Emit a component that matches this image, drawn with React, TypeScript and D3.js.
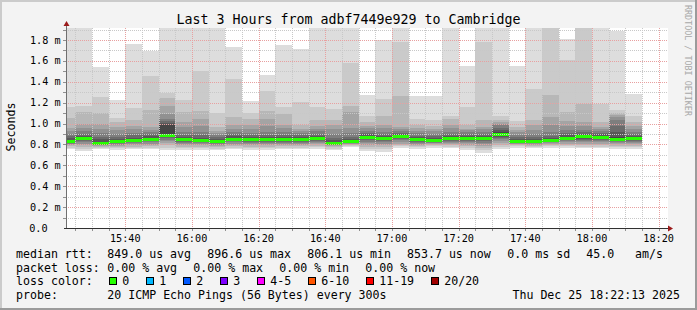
import React from "react";
import * as d3 from "d3";

// ---------------- data ----------------
const chartTitle = "Last 3 Hours from adbf7449e929 to Cambridge";
const endTime = Date.UTC(2025, 11, 25, 18, 22, 13);
const startTime = endTime - 3 * 3600 * 1000;
const firstBarEnd = Date.UTC(2025, 11, 25, 15, 25, 0);
const stepMs = 300 * 1000;

// median RTT per 5-min step (ms)
const medianRtt = [
  0.833, 0.855, 0.809, 0.830, 0.841, 0.852, 0.890, 0.843, 0.840, 0.830,
  0.852, 0.843, 0.846, 0.849, 0.846, 0.859, 0.812, 0.830, 0.871, 0.854,
  0.873, 0.844, 0.835, 0.854, 0.859, 0.860, 0.895, 0.830, 0.831, 0.840,
  0.860, 0.873, 0.871, 0.849, 0.854,
];

// 20 sorted ping RTTs per step (ms)
const pingRtt = [
  [0.755,0.768,0.781,0.792,0.801,0.809,0.816,0.822,0.827,0.831,0.836,0.845,0.858,0.877,0.902,0.930,0.955,1.050,1.161,2.050],
  [0.742,0.760,0.778,0.793,0.808,0.822,0.833,0.842,0.849,0.853,0.858,0.866,0.880,0.900,0.925,0.958,0.996,1.108,1.171,2.100],
  [0.752,0.765,0.776,0.785,0.792,0.797,0.801,0.804,0.806,0.808,0.811,0.826,0.848,0.872,0.905,0.950,0.998,1.101,1.254,1.541],
  [0.748,0.763,0.777,0.789,0.799,0.807,0.814,0.820,0.825,0.828,0.833,0.842,0.856,0.875,0.900,0.935,0.970,1.018,1.053,1.226],
  [0.752,0.767,0.780,0.792,0.803,0.812,0.821,0.829,0.835,0.839,0.844,0.852,0.866,0.886,0.912,0.945,0.980,1.034,1.149,1.762],
  [0.755,0.770,0.784,0.797,0.809,0.820,0.830,0.838,0.845,0.850,0.855,0.864,0.878,0.896,0.918,0.942,0.970,1.130,1.455,1.698],
  [0.745,0.770,0.790,0.810,0.830,0.845,0.858,0.868,0.878,0.885,0.895,0.990,1.005,1.020,1.040,1.089,1.168,1.248,1.290,2.100],
  [0.750,0.766,0.780,0.793,0.805,0.815,0.824,0.832,0.838,0.841,0.846,0.855,0.870,0.890,0.920,0.965,1.018,1.108,1.226,2.100],
  [0.750,0.765,0.779,0.791,0.803,0.813,0.822,0.830,0.836,0.839,0.843,0.852,0.866,0.886,0.915,0.975,1.040,1.120,1.503,2.100],
  [0.745,0.761,0.775,0.788,0.799,0.808,0.816,0.822,0.827,0.829,0.833,0.842,0.855,0.870,0.890,0.910,0.930,0.970,1.098,2.100],
  [0.755,0.770,0.784,0.797,0.809,0.820,0.830,0.838,0.845,0.850,0.855,0.864,0.878,0.897,0.922,0.952,0.986,1.066,1.427,1.733],
  [0.745,0.762,0.777,0.791,0.803,0.814,0.823,0.831,0.837,0.841,0.846,0.855,0.869,0.888,0.912,0.950,0.990,1.044,1.098,1.216],
  [0.750,0.766,0.780,0.793,0.805,0.816,0.825,0.833,0.840,0.844,0.849,0.858,0.872,0.892,0.920,0.975,1.040,1.120,1.312,1.465],
  [0.755,0.770,0.783,0.795,0.807,0.818,0.827,0.835,0.842,0.847,0.852,0.861,0.875,0.894,0.920,0.955,0.990,1.089,1.159,1.752],
  [0.752,0.767,0.781,0.794,0.806,0.816,0.825,0.833,0.840,0.844,0.849,0.858,0.871,0.888,0.908,0.930,0.950,0.986,1.203,1.714],
  [0.755,0.771,0.786,0.800,0.813,0.824,0.834,0.843,0.851,0.856,0.862,0.871,0.884,0.901,0.925,0.952,0.980,1.034,1.161,2.100],
  [0.748,0.761,0.773,0.783,0.791,0.798,0.803,0.807,0.810,0.811,0.814,0.825,0.842,0.865,0.900,0.945,0.990,1.034,1.139,2.100],
  [0.772,0.783,0.792,0.800,0.807,0.813,0.818,0.822,0.826,0.828,0.833,0.842,0.855,0.873,0.905,0.957,1.108,1.171,1.583,2.100],
  [0.740,0.760,0.779,0.796,0.812,0.826,0.839,0.851,0.861,0.867,0.874,0.883,0.896,0.912,0.932,0.955,0.980,1.018,1.076,1.273],
  [0.730,0.752,0.772,0.790,0.806,0.820,0.832,0.841,0.848,0.852,0.857,0.866,0.880,0.898,0.922,0.955,0.990,1.076,1.235,1.800],
  [0.770,0.784,0.797,0.809,0.820,0.838,0.850,0.859,0.866,0.870,0.876,0.885,0.898,0.913,0.930,0.950,0.970,1.264,1.784,2.100],
  [0.758,0.772,0.785,0.797,0.808,0.818,0.826,0.833,0.839,0.842,0.847,0.856,0.869,0.885,0.905,0.930,0.955,0.990,1.040,1.267],
  [0.770,0.782,0.793,0.802,0.810,0.817,0.823,0.828,0.832,0.834,0.838,0.847,0.860,0.877,0.898,0.925,0.950,0.980,1.034,1.267],
  [0.762,0.776,0.790,0.802,0.813,0.823,0.832,0.840,0.847,0.852,0.857,0.866,0.880,0.898,0.922,0.955,0.990,1.044,1.076,2.100],
  [0.750,0.767,0.783,0.798,0.812,0.824,0.835,0.845,0.852,0.857,0.862,0.871,0.884,0.900,0.918,0.935,0.950,0.986,1.161,1.554],
  [0.722,0.745,0.766,0.785,0.802,0.817,0.830,0.841,0.851,0.857,0.863,0.872,0.885,0.902,0.922,0.945,0.970,1.034,1.784,2.100],
  [0.755,0.775,0.795,0.815,0.833,0.848,0.861,0.873,0.883,0.890,0.900,0.915,0.935,0.960,0.985,1.000,1.015,1.034,1.076,2.100],
  [0.770,0.781,0.791,0.800,0.807,0.813,0.818,0.823,0.827,0.829,0.833,0.842,0.855,0.872,0.892,0.915,0.940,0.970,1.024,1.554],
  [0.765,0.777,0.788,0.798,0.806,0.813,0.819,0.824,0.828,0.830,0.834,0.843,0.856,0.875,0.900,0.940,0.990,1.034,1.331,2.100],
  [0.770,0.783,0.795,0.805,0.814,0.822,0.829,0.834,0.838,0.839,0.843,0.852,0.866,0.885,0.915,0.985,1.066,1.273,2.000,2.100],
  [0.770,0.784,0.797,0.809,0.820,0.830,0.839,0.847,0.854,0.858,0.863,0.872,0.886,0.905,0.935,0.980,1.028,1.108,1.608,1.810],
  [0.765,0.780,0.795,0.809,0.822,0.834,0.845,0.855,0.864,0.870,0.876,0.885,0.898,0.915,0.940,0.975,1.018,1.190,2.000,2.100],
  [0.762,0.778,0.793,0.807,0.820,0.832,0.843,0.853,0.862,0.868,0.874,0.883,0.896,0.912,0.932,0.952,0.970,1.015,1.190,2.100],
  [0.760,0.775,0.789,0.802,0.814,0.824,0.833,0.840,0.845,0.848,0.852,0.875,0.920,0.980,1.030,1.060,1.080,1.100,1.127,1.886],
  [0.760,0.775,0.789,0.802,0.814,0.824,0.833,0.841,0.848,0.852,0.857,0.866,0.879,0.896,0.918,0.948,0.980,1.018,1.076,1.283],
];

const yTickValues = [0, 0.2, 0.4, 0.6, 0.8, 1.0, 1.2, 1.4, 1.6, 1.8];
const yTickLabels = ["0.0", "0.2 m", "0.4 m", "0.6 m", "0.8 m", "1.0 m", "1.2 m", "1.4 m", "1.6 m", "1.8 m"];
const yLabel = "Seconds";
const credit = "RRDTOOL / TOBI OETIKER";

const medianRowLabel = "median rtt:";
const medianRowItems = ["849.0 us avg", "896.6 us max", "806.1 us min", "853.7 us now", "0.0 ms sd", "45.0", "am/s"];
const lossRowLabel = "packet loss:";
const lossRowItems = ["0.00 % avg", "0.00 % max", "0.00 % min", "0.00 % now"];
const colorRowLabel = "loss color:";
const lossLabels = ["0", "1", "2", "3", "4-5", "6-10", "11-19", "20/20"];
const lossColors = ["#26ff00", "#00b8ff", "#0059ff", "#7e00ff", "#ff00ff", "#ff5500", "#ff0000", "#a00000"];
const probeRowLabel = "probe:";
const probeText = "20 ICMP Echo Pings (56 Bytes) every 300s";
const dateText = "Thu Dec 25 18:22:13 2025";

// smoke shades, outer pair -> inner pair
const smokeShades = ["#dddddd", "#cacaca", "#b7b7b7", "#a4a4a4", "#919191", "#7e7e7e", "#6b6b6b", "#585858", "#454545", "#323232"];

// ---------------- layout ----------------
const W = 697, H = 310;
const PL = 66, PR = 666, PT = 28, PB = 228;
const FONT = "DejaVu Sans Mono";
const medianRowX = [107.3, 207.3, 307.3, 407.0, 507.3, 586.3, 635];
const lossRowX = [107.3, 193.3, 279.3, 365.3];
const rowY = [258, 271.7, 285.2, 299];

export default function App() {
  const x = d3.scaleUtc().domain([startTime, endTime]).range([PL, PR]);
  const y = d3.scaleLinear().domain([0, 1.915]).range([PB, PT]);

  const minorX = x.ticks(d3.utcMinute.every(5)!).filter((t) => t.getUTCMinutes() % 20 !== 0);
  const majorX = x.ticks(d3.utcMinute.every(20)!);
  const fmt = d3.utcFormat("%H:%M");
  const minorY = d3.range(1, 20).map((i) => i / 10).filter((v) => Math.round(v * 10) % 2 === 1);
  const majorY = yTickValues.filter((v) => v > 0);

  const bars = medianRtt.map((m, k) => {
    const tEnd = firstBarEnd + k * stepMs;
    const x0 = Math.max(PL, x(tEnd - stepMs));
    const x1 = x(tEnd);
    return { m, x0, x1, pings: pingRtt[k] };
  });

  const px = (v: number) => Math.round(v) + 0.5;

  // legend box positions
  let bx = 108.7;
  const boxes = lossLabels.map((lab, i) => {
    const b = { lab, col: lossColors[i], x: bx };
    bx += 30 + 7 * lab.length;
    return b;
  });

  return (
    <svg width={W} height={H} style={{ position: "fixed", left: 0, top: 0 }} fontFamily={FONT}>
      <defs>
        <clipPath id="plotclip">
          <rect x={PL + 1} y={PT} width={PR - PL} height={PB - PT} />
        </clipPath>
      </defs>
      <rect x={0} y={0} width={W} height={H} fill="#f3f3f3" />
      <rect x={0} y={0} width={W} height={2} fill="#cbcbcb" />
      <rect x={0} y={0} width={2} height={H} fill="#cbcbcb" />
      <rect x={0} y={H - 2} width={W} height={2} fill="#9b9b9b" />
      <rect x={W - 2} y={0} width={2} height={H} fill="#9b9b9b" />

      <text x={348.5} y={24} fontSize={13.3} textAnchor="middle" fill="#000">{chartTitle}</text>

      <rect x={PL} y={PT} width={PR - PL + 2} height={PB - PT} fill="#ffffff" />

      <g clipPath="url(#plotclip)" shapeRendering="crispEdges">
        {bars.map((b, k) => (
          <g key={k}>
            {smokeShades.map((c, i) => {
              const lo = b.pings[i];
              const hi = b.pings[19 - i];
              const yt = y(hi), yb = y(lo);
              return <rect key={i} x={b.x0} y={yt} width={b.x1 - b.x0} height={Math.max(0, yb - yt)} fill={c} />;
            })}
            <rect x={b.x0} y={y(b.m) - 1.5} width={b.x1 - b.x0} height={3} fill={lossColors[0]} />
          </g>
        ))}
      </g>

      {/* grid */}
      <g strokeWidth={1} strokeDasharray="1,1" shapeRendering="crispEdges">
        {minorY.map((v) => (
          <line key={"my" + v} x1={PL} x2={PR + 2} y1={px(y(v))} y2={px(y(v))} stroke="#c8c8c8" />
        ))}
        {minorX.map((t) => (
          <line key={"mx" + +t} x1={px(x(t))} x2={px(x(t))} y1={PT} y2={PB} stroke="#c8c8c8" />
        ))}
        {majorY.map((v) => (
          <line key={"My" + v} x1={PL} x2={PR + 2} y1={px(y(v))} y2={px(y(v))} stroke="#e8a0a0" />
        ))}
        {majorX.map((t) => (
          <line key={"Mx" + +t} x1={px(x(t))} x2={px(x(t))} y1={PT} y2={PB} stroke="#e8a0a0" />
        ))}
      </g>

      {/* axis ticks */}
      <g shapeRendering="crispEdges" stroke="#909090">
        {[...minorY, ...majorY].map((v) => (
          <line key={"ty" + v} x1={PL - 3} x2={PL} y1={px(y(v))} y2={px(y(v))} />
        ))}
        {[...minorX, ...majorX].map((t) => (
          <line key={"tx" + +t} x1={px(x(t))} x2={px(x(t))} y1={PB} y2={PB + 3} />
        ))}
      </g>

      {/* axes */}
      <line x1={PL + 0.5} x2={PL + 0.5} y1={PB + 1} y2={PT - 3} stroke="#707070" shapeRendering="crispEdges" />
      <line x1={PL - 2} x2={PR + 3} y1={PB + 0.5} y2={PB + 0.5} stroke="#303030" shapeRendering="crispEdges" />
      <polygon points={`${PL - 2.5},${PT - 2} ${PL + 3.5},${PT - 2} ${PL + 0.5},${PT - 7}`} fill="#9b1b1b" />
      <polygon points={`${PR + 2},${PB - 2.5} ${PR + 2},${PB + 3.5} ${PR + 7},${PB + 0.5}`} fill="#9b1b1b" />

      {/* y tick labels */}
      {yTickValues.map((v, i) => (
        <text key={"yl" + v} x={v === 0 ? 47.6 : 60.6} y={y(v) + 3.6} fontSize={10.2} textAnchor="end" fill="#000">
          {yTickLabels[i]}
        </text>
      ))}
      {/* x tick labels */}
      {majorX.map((t) => (
        <text key={"xl" + +t} x={x(t)} y={241.5} fontSize={10.2} textAnchor="middle" fill="#000">
          {fmt(t)}
        </text>
      ))}

      <text transform="translate(15,127) rotate(-90)" fontSize={11.6} textAnchor="middle" fill="#000">{yLabel}</text>
      <text transform="translate(685,5) rotate(90)" fontSize={8.4} fill="#a8a8a8">{credit}</text>

      {/* legend */}
      <g fontSize={11.6} fill="#000">
        <text x={16} y={rowY[0]}>{medianRowLabel}</text>
        {medianRowItems.map((s, i) => (
          <text key={"m" + i} x={medianRowX[i]} y={rowY[0]}>{s}</text>
        ))}
        <text x={16} y={rowY[1]}>{lossRowLabel}</text>
        {lossRowItems.map((s, i) => (
          <text key={"l" + i} x={lossRowX[i]} y={rowY[1]}>{s}</text>
        ))}
        <text x={16} y={rowY[2]}>{colorRowLabel}</text>
        {boxes.map((b) => (
          <g key={b.lab}>
            <rect x={b.x + 0.5} y={277.5} width={7} height={7} fill={b.col} stroke="#000" strokeWidth={1} shapeRendering="crispEdges" />
            <text x={b.x + 13.5} y={rowY[2]}>{b.lab}</text>
          </g>
        ))}
        <text x={16} y={rowY[3]}>{probeRowLabel}</text>
        <text x={107.3} y={rowY[3]}>{probeText}</text>
        <text x={680} y={rowY[3]} textAnchor="end">{dateText}</text>
      </g>
    </svg>
  );
}
